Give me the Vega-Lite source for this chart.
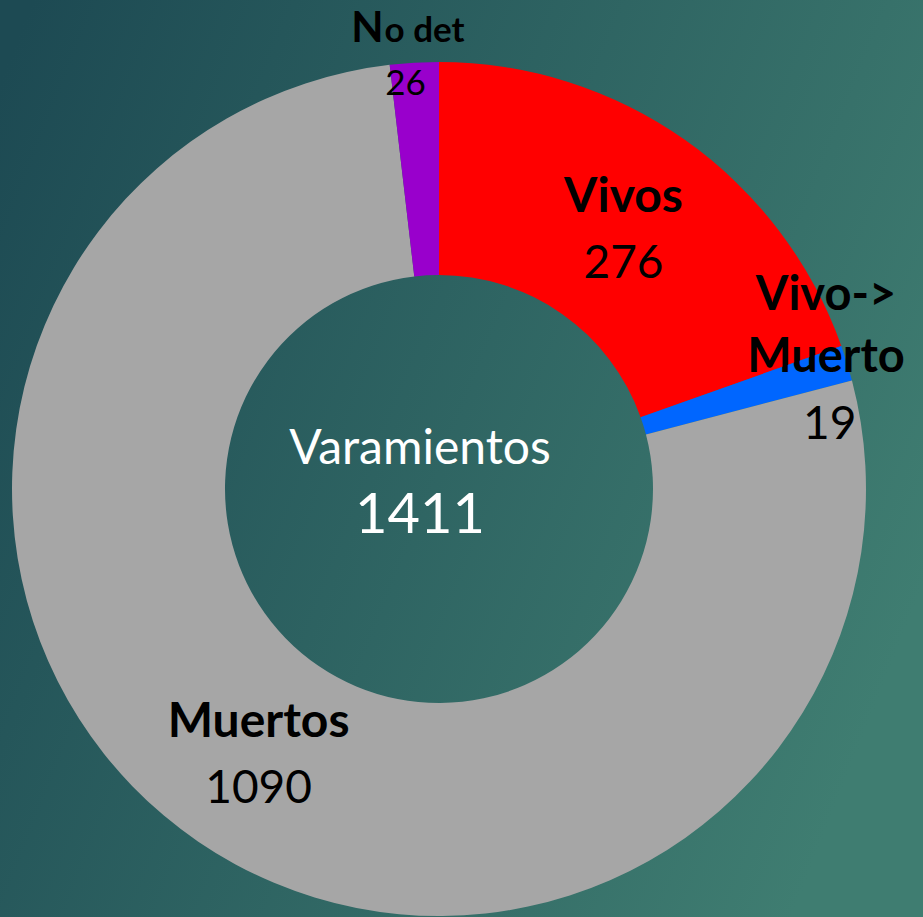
{
  "$schema": "https://vega.github.io/schema/vega-lite/v6.json",
  "width": 968,
  "height": 978,
  "autosize": "none",
  "padding": {"left": -45, "top": 0, "right": 0, "bottom": -61},
  "background": "#2d6562",
  "config": {"view": {"stroke": null}, "text": {"font": "Lato", "color": "black", "align": "center", "baseline": "middle"}},
  "datasets": {
    "varamientos": [
      {"categoria": "Vivos", "etiqueta": "Vivos", "n": 276, "orden": 1},
      {"categoria": "Vivo->Muerto", "etiqueta": "Vivo->\nMuerto", "n": 19, "orden": 2},
      {"categoria": "Muertos", "etiqueta": "Muertos", "n": 1090, "orden": 3},
      {"categoria": "No det", "etiqueta": "No det", "n": 26, "orden": 4}
    ]
  },
  "data": {"name": "varamientos"},
  "transform": [
    {"stack": "n", "groupby": [], "sort": [{"field": "orden", "order": "ascending"}], "as": ["t0", "t1"]},
    {"calculate": "(datum.t0 + datum.t1) / 2", "as": "tmid"}
  ],
  "layer": [
    {
      "data": {"values": [{}]},
      "mark": {
        "type": "rect",
        "fill": {
          "gradient": "linear",
          "x1": 0, "y1": 0.2, "x2": 1, "y2": 0.6,
          "stops": [
            {"offset": 0, "color": "#1d4a53"},
            {"offset": 1, "color": "#3f7d71"}
          ]
        }
      },
      "encoding": {}
    },
    {
      "mark": {"type": "arc", "outerRadius": 427, "innerRadius": 214},
      "encoding": {
        "theta": {"field": "n", "type": "quantitative", "stack": true},
        "order": {"field": "orden", "type": "quantitative", "sort": "ascending"},
        "color": {
          "field": "categoria",
          "type": "nominal",
          "scale": {
            "domain": ["Vivos", "Vivo->Muerto", "Muertos", "No det"],
            "range": ["#ff0000", "#0066ff", "#a6a6a6", "#9900cc"]
          },
          "legend": null
        }
      }
    },
    {
      "transform": [{"filter": "datum.orden == 1 || datum.orden == 3"}],
      "mark": {"type": "text", "fontWeight": "bold", "fontSize": 48, "radius": 320, "dy": -30},
      "encoding": {
        "theta": {"field": "tmid", "type": "quantitative", "stack": null},
        "text": {"field": "etiqueta"}
      }
    },
    {
      "transform": [{"filter": "datum.orden == 1 || datum.orden == 3"}],
      "mark": {"type": "text", "fontSize": 46, "radius": 320, "dy": 36},
      "encoding": {
        "theta": {"field": "tmid", "type": "quantitative", "stack": null},
        "text": {"field": "n"}
      }
    },
    {
      "transform": [{"filter": "datum.orden == 2"}],
      "mark": {"type": "text", "fontWeight": "bold", "fontSize": 47, "radius": 405, "dy": -74, "lineBreak": "\n", "lineHeight": 62},
      "encoding": {
        "theta": {"field": "tmid", "type": "quantitative", "stack": null},
        "text": {"field": "etiqueta"}
      }
    },
    {
      "transform": [{"filter": "datum.orden == 2"}],
      "mark": {"type": "text", "fontSize": 46, "radius": 409, "dy": 57},
      "encoding": {
        "theta": {"field": "tmid", "type": "quantitative", "stack": null},
        "text": {"field": "n"}
      }
    },
    {
      "transform": [
        {"filter": "datum.orden == 4"},
        {"calculate": "substring(datum.etiqueta, 0, 1)", "as": "inicial"}
      ],
      "mark": {"type": "text", "fontWeight": "bold", "fontSize": 42, "radius": 440, "align": "right", "baseline": "alphabetic", "dx": -30, "dy": -8},
      "encoding": {
        "theta": {"field": "tmid", "type": "quantitative", "stack": null},
        "text": {"field": "inicial"}
      }
    },
    {
      "transform": [
        {"filter": "datum.orden == 4"},
        {"calculate": "substring(datum.etiqueta, 1)", "as": "resto"}
      ],
      "mark": {"type": "text", "fontWeight": "bold", "fontSize": 35, "radius": 440, "align": "left", "baseline": "alphabetic", "dx": -29, "dy": -8},
      "encoding": {
        "theta": {"field": "tmid", "type": "quantitative", "stack": null},
        "text": {"field": "resto"}
      }
    },
    {
      "transform": [{"filter": "datum.orden == 4"}],
      "mark": {"type": "text", "fontSize": 35, "radius": 440, "dx": -8, "dy": 34},
      "encoding": {
        "theta": {"field": "tmid", "type": "quantitative", "stack": null},
        "text": {"field": "n"}
      }
    },
    {
      "transform": [{"aggregate": [{"op": "sum", "field": "n", "as": "total"}]}],
      "mark": {"type": "text", "fontSize": 48, "dx": -19, "dy": -39, "color": "white"},
      "encoding": {"text": {"value": "Varamientos"}}
    },
    {
      "transform": [{"aggregate": [{"op": "sum", "field": "n", "as": "total"}]}],
      "mark": {"type": "text", "fontSize": 56, "dx": -19, "dy": 27, "color": "white"},
      "encoding": {"text": {"field": "total", "type": "quantitative"}}
    }
  ]
}
